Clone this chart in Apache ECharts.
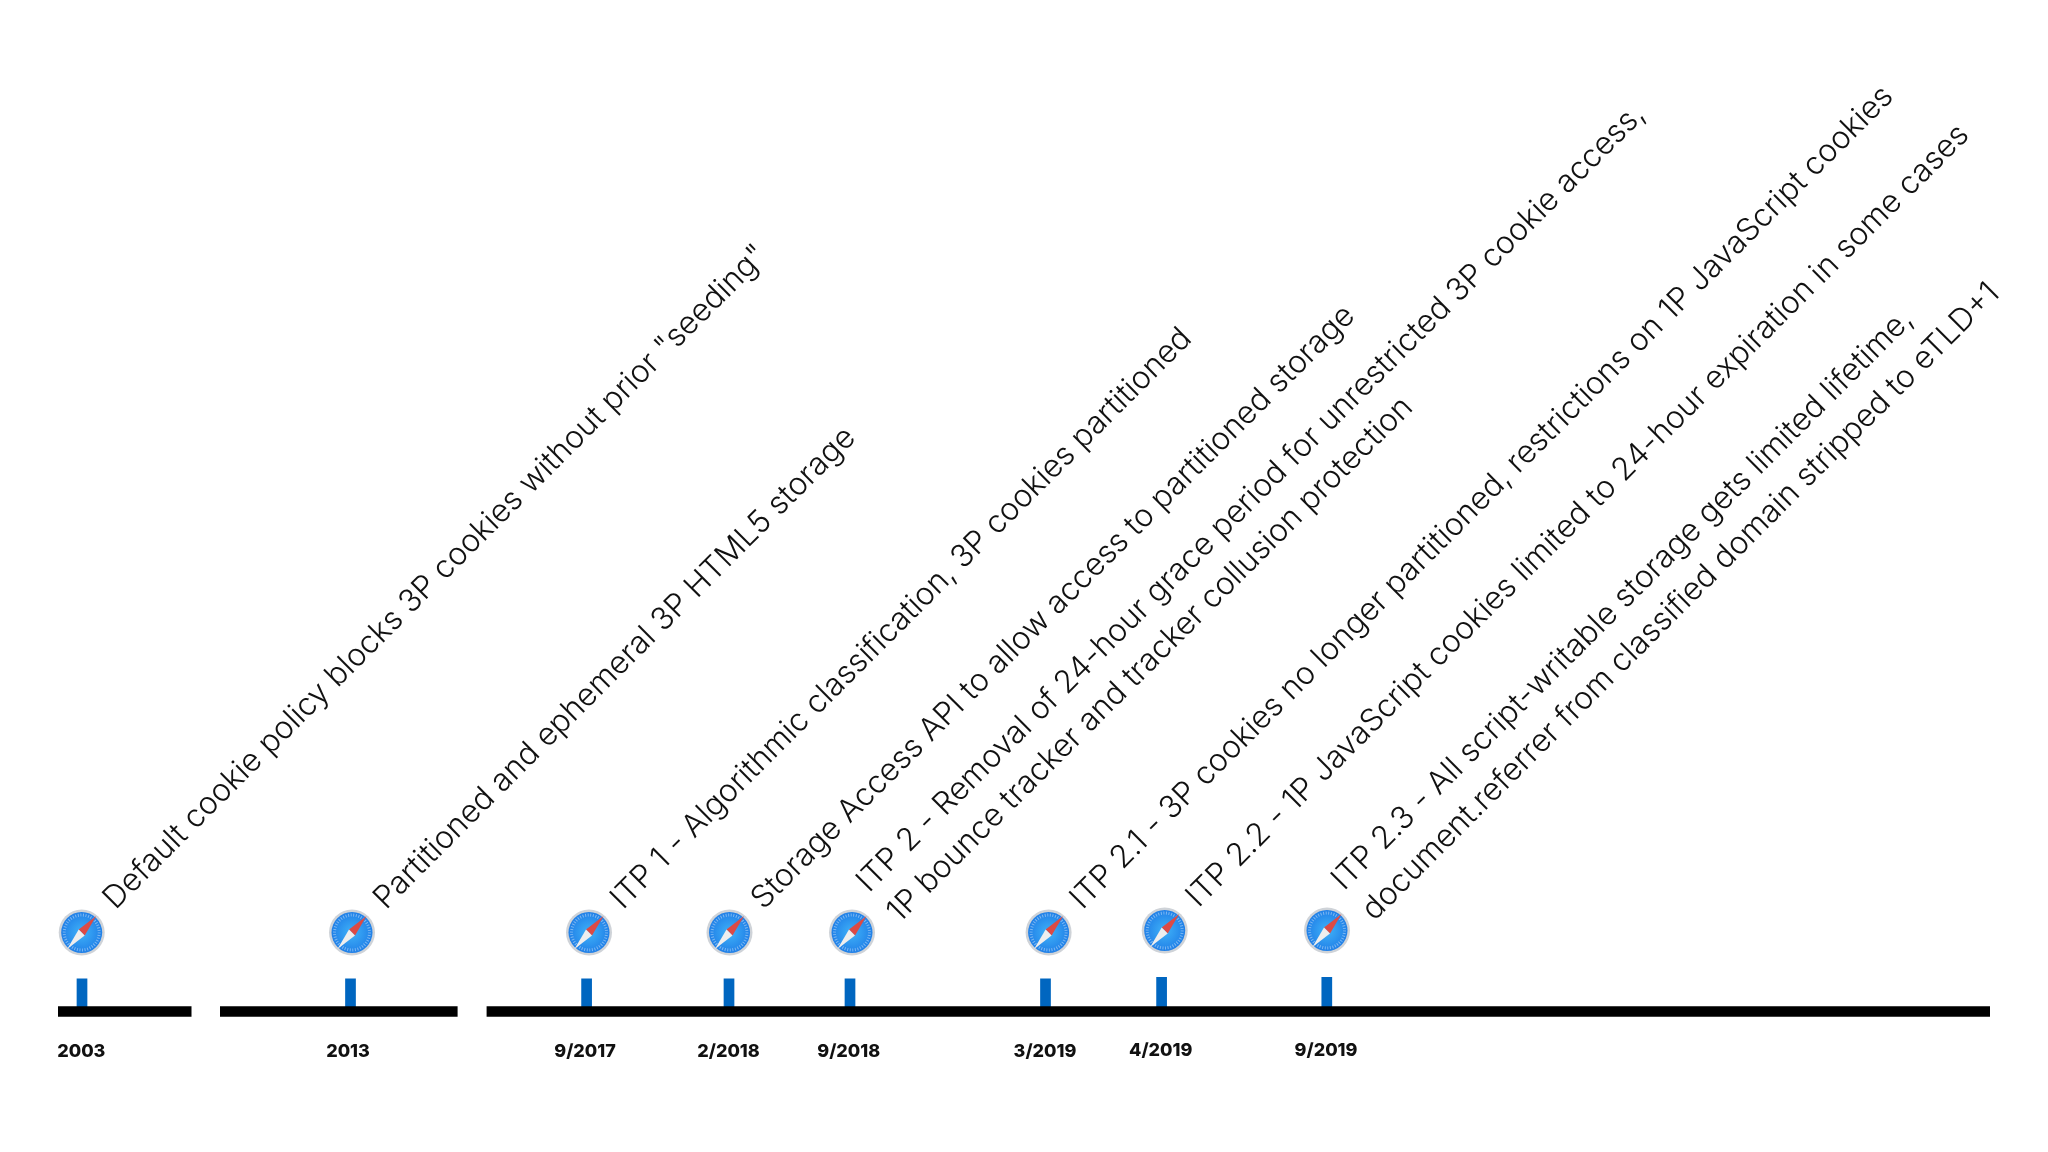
<!DOCTYPE html>
<html lang="en">
<head>
    <meta charset="UTF-8">
    <title>Safari tracking prevention timeline</title>
    <style>
        body {
            padding: 0;
            margin: 0;
            background-color: #FFFFFF;
            overflow: hidden;
        }
        #main_chart {
            width: 2048px;
            height: 1152px;
        }
    </style>
</head>
<body>
<div id="main_chart"></div>
<script type="text/javascript" src="https://cdn.jsdelivr.net/npm/echarts@6/dist/echarts.min.js"></script>
<script type="text/javascript">
// timeline is not to scale, so x is just the position read along the line
var dates = ['2003', '2013', '9/2017', '2/2018', '9/2018', '3/2019', '4/2019', '9/2019'];
var tickX = [82, 350.5, 586.6, 729, 850, 1045.5, 1161.6, 1326.8];
var tickHeight = [33, 33, 33, 33, 33, 33, 34.5, 34.5];
var iconX = [81.7, 352, 589, 729.5, 852, 1048.6, 1164.7, 1327];
var iconHeight = [79, 79, 79, 79, 79, 79, 81, 81];
var dateX = [81.3, 348, 585, 728.5, 848.7, 1045, 1160.7, 1326];
var dateHeight = [-40, -40, -40, -40, -40, -40, -39, -39];
var events = [
    'Default cookie policy blocks 3P cookies without prior "seeding"',
    'Partitioned and ephemeral 3P HTML5 storage',
    'ITP 1 - Algorithmic classification, 3P cookies partitioned',
    'Storage Access API to allow access to partitioned storage',
    'ITP 2 - Removal of 24-hour grace period for unrestricted 3P cookie access,\n1P bounce tracker and tracker collusion protection',
    'ITP 2.1 - 3P cookies no longer partitioned, restrictions on 1P JavaScript cookies',
    'ITP 2.2 - 1P JavaScript cookies limited to 24-hour expiration in some cases',
    'ITP 2.3 - All script-writable storage gets limited lifetime,\ndocument.referrer from classified domain stripped to eTLD+1'
];
var lineSegments = [[58, 191.5], [220, 457.6], [486.6, 1990]];

var LINE_WIDTH = 10.7;
var TICK_WIDTH = 10.7;
var TEXT_FONT = 'Inter';

function renderSegment(params, api) {
    var a = api.coord([api.value(0), 0]);
    var b = api.coord([api.value(1), 0]);
    return {
        type: 'rect',
        shape: {x: a[0], y: a[1] - LINE_WIDTH / 2, width: b[0] - a[0], height: LINE_WIDTH},
        style: {fill: '#000000'}
    };
}

function renderTick(params, api) {
    var a = api.coord([api.value(0), api.value(1)]);
    var b = api.coord([api.value(0), 0]);
    return {
        type: 'rect',
        shape: {x: a[0] - TICK_WIDTH / 2, y: a[1], width: TICK_WIDTH, height: b[1] - a[1]},
        style: {fill: '#0066c0'}
    };
}

// small safari compass, drawn around the point
function renderIcon(params, api) {
    var c = api.coord([api.value(0), api.value(1)]);
    return {
        type: 'group',
        x: c[0],
        y: c[1],
        children: [
            {type: 'circle', shape: {cx: 0, cy: 0, r: 23}, style: {fill: '#cfd3d8'}},
            {type: 'circle', shape: {cx: 0, cy: 0, r: 20.5}, style: {
                fill: new echarts.graphic.RadialGradient(0.5, 0.5, 0.6, [
                    {offset: 0, color: '#3fb2f8'},
                    {offset: 1, color: '#1b76e4'}
                ])
            }},
            {type: 'circle', shape: {cx: 0, cy: 0, r: 17.5}, style: {
                fill: 'none', stroke: 'rgba(255,255,255,0.4)', lineWidth: 3, lineDash: [1, 1.6]
            }},
            {type: 'polygon', shape: {points: [[14.5, -16.5], [-3, -3], [3, 3]]}, style: {fill: '#dd4a45'}},
            {type: 'polygon', shape: {points: [[-14.5, 16.5], [-3, -3], [3, 3]]}, style: {fill: '#eeeeee'}}
        ]
    };
}

function renderEvent(params, api) {
    var text = events[params.dataIndex];
    var twoLines = text.indexOf('\n') >= 0;
    var c = api.coord([api.value(0), api.value(1)]);
    // two line notes start higher up so the second line clears the icon
    var dx = twoLines ? -5 : 12;
    var dy = twoLines ? -61 : -44;
    return {
        type: 'text',
        x: c[0] + dx,
        y: c[1] + dy,
        originX: 0,
        originY: 0,
        rotation: Math.PI / 4,
        style: {
            text: text,
            fill: '#111111',
            font: '300 31.4px ' + TEXT_FONT,
            lineHeight: 43,
            align: 'left',
            verticalAlign: 'top'
        }
    };
}

function zipXY(xs, ys) {
    return xs.map(function (x, i) { return [x, ys[i]]; });
}

var option = {
    animation: false,
    backgroundColor: '#FFFFFF',
    grid: {left: 0, right: 0, top: 0, bottom: 0},
    xAxis: {type: 'value', min: 0, max: 2048, show: false},
    yAxis: {type: 'value', min: -140.5, max: 1011.5, show: false},
    series: [
        {
            type: 'custom',
            clip: false,
            renderItem: renderTick,
            encode: {x: 0, y: 1},
            data: zipXY(tickX, tickHeight),
            z: 2
        },
        {
            type: 'custom',
            clip: false,
            renderItem: renderSegment,
            encode: {x: [0, 1]},
            data: lineSegments,
            z: 3
        },
        {
            type: 'custom',
            clip: false,
            renderItem: renderIcon,
            encode: {x: 0, y: 1},
            data: zipXY(iconX, iconHeight),
            z: 4
        },
        {
            type: 'custom',
            clip: false,
            renderItem: renderEvent,
            encode: {x: 0, y: 1},
            data: zipXY(iconX, iconHeight),
            z: 5
        },
        {
            type: 'scatter',
            symbolSize: 0,
            itemStyle: {opacity: 1},
            data: zipXY(dateX, dateHeight),
            label: {
                show: true,
                position: 'inside',
                formatter: function (p) { return dates[p.dataIndex]; },
                color: '#111111',
                fontFamily: TEXT_FONT,
                fontWeight: 800,
                fontSize: 18
            },
            z: 5
        }
    ]
};

var chart = echarts.init(document.getElementById('main_chart'));
chart.setOption(option);
</script>
</body>
</html>
